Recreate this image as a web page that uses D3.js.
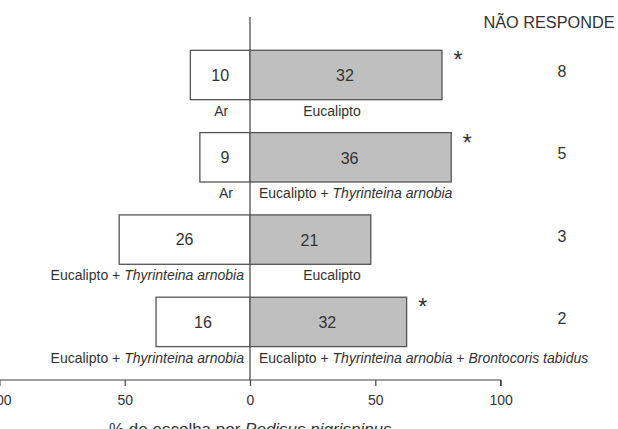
<!DOCTYPE html>
<html>
<head>
<meta charset="utf-8">
<script src="https://cdn.jsdelivr.net/npm/d3@7"></script>
<style>
  html, body { margin: 0; padding: 0; background: #fff; }
  svg { display: block; font-family: "Liberation Sans", Arial, sans-serif; }
</style>
</head>
<body>
<svg id="chart" width="618" height="429"></svg>
<script>
// ---- data ----
const rows = ["1", "2", "3", "4"];
const leftPct = [23.8, 20.0, 52.2, 37.5];
const rightPct = [76.6, 80.3, 48.2, 62.5];
const leftCount = [10, 9, 26, 16];
const rightCount = [32, 36, 21, 32];
const leftLabels = ["Ar", "Ar", "Eucalipto + _Thyrinteina arnobia_", "Eucalipto + _Thyrinteina arnobia_"];
const rightLabels = ["Eucalipto", "Eucalipto + _Thyrinteina arnobia_", "Eucalipto", "Eucalipto + _Thyrinteina arnobia_ + _Brontocoris tabidus_"];
const significant = [true, true, false, true];
const noResponse = [8, 5, 3, 2];
const noResponseTitle = "NÃO RESPONDE";
const tickValues = [-100, -50, 0, 50, 100];
const xTitle = "% de escolha por _Podisus nigrispinus_";

// ---- layout ----
const svg = d3.select("#chart");
const x = d3.scaleLinear().domain([-100, 100]).range([-0.6, 500.6]);
const y = d3.scaleBand().domain(rows).range([50.3, 346.6]).paddingInner(0.4).paddingOuter(0);
const axisY = 380;
const ink = "#333";
const stroke = "#555";

function richText(sel, str) {
  str.split("_").forEach((part, i) => {
    if (!part) return;
    sel.append("tspan").attr("font-style", i % 2 ? "italic" : "normal").text(part);
  });
}

// central vertical line
svg.append("line")
  .attr("x1", x(0)).attr("x2", x(0))
  .attr("y1", 17).attr("y2", axisY)
  .attr("stroke", "#444").attr("stroke-width", 1.2);

const g = svg.append("g");
rows.forEach((r, i) => {
  const y0 = y(r), bw = y.bandwidth(), yc = y0 + bw / 2;
  // left bar
  g.append("rect")
    .attr("x", x(-leftPct[i])).attr("y", y0)
    .attr("width", x(0) - x(-leftPct[i])).attr("height", bw)
    .attr("fill", "#fff").attr("stroke", stroke).attr("stroke-width", 1.3);
  // right bar
  g.append("rect")
    .attr("x", x(0)).attr("y", y0)
    .attr("width", x(rightPct[i]) - x(0)).attr("height", bw)
    .attr("fill", "#bfbfbf").attr("stroke", stroke).attr("stroke-width", 1.3);
  // counts
  g.append("text")
    .attr("x", (x(-leftPct[i]) + x(0)) / 2).attr("y", yc + 5.7)
    .attr("text-anchor", "middle").attr("font-size", 16).attr("fill", ink)
    .text(leftCount[i]);
  g.append("text")
    .attr("x", (x(rightPct[i]) + x(0)) / 2 - 1).attr("y", yc + 6.5)
    .attr("text-anchor", "middle").attr("font-size", 16).attr("fill", ink)
    .text(rightCount[i]);
  // left label
  const ll = g.append("text").attr("y", y0 + bw + 16).attr("font-size", 14).attr("fill", ink);
  richText(ll, leftLabels[i]);
  const lw = ll.node().getComputedTextLength();
  const lbw = x(0) - x(-leftPct[i]);
  if (lw < lbw - 8) {
    ll.attr("x", (x(-leftPct[i]) + x(0)) / 2 + 1).attr("text-anchor", "middle");
  } else {
    ll.attr("x", x(0) - 6).attr("text-anchor", "end");
  }
  // right label
  const rl = g.append("text").attr("y", y0 + bw + 16).attr("font-size", 14).attr("fill", ink);
  richText(rl, rightLabels[i]);
  const rw = rl.node().getComputedTextLength();
  if (rw < 100) {
    rl.attr("x", x(0) + 82).attr("text-anchor", "middle");
  } else {
    rl.attr("x", x(0) + 9).attr("text-anchor", "start");
  }
  // significance
  if (significant[i]) {
    g.append("text")
      .attr("x", x(rightPct[i]) + 16).attr("y", y0 + 18)
      .attr("text-anchor", "middle").attr("font-size", 23).attr("fill", ink)
      .text("*");
  }
  // no response
  g.append("text")
    .attr("x", 562).attr("y", yc + 2)
    .attr("text-anchor", "middle").attr("font-size", 16).attr("fill", ink)
    .text(noResponse[i]);
});

svg.append("text")
  .attr("x", 549).attr("y", 28)
  .attr("text-anchor", "middle").attr("font-size", 16.3).attr("fill", ink)
  .text(noResponseTitle);

// x axis
const axis = d3.axisBottom(x).tickValues(tickValues).tickSize(6).tickPadding(9)
  .tickFormat(d => Math.abs(d));
const ag = svg.append("g").attr("transform", `translate(0,${axisY})`).call(axis);
ag.select(".domain").attr("stroke", "#444").attr("stroke-width", 1.2)
  .attr("d", `M${x(-100)},6V0H${x(100)}V6`);
ag.selectAll(".tick line").attr("stroke", "#444").attr("stroke-width", 1.2);
ag.selectAll(".tick text").attr("font-size", 14).attr("fill", ink)
  .attr("font-family", "Liberation Sans, Arial, sans-serif");

const xt = svg.append("text").attr("x", 109).attr("y", 435).attr("font-size", 17).attr("fill", ink);
richText(xt, xTitle);
</script>
</body>
</html>
